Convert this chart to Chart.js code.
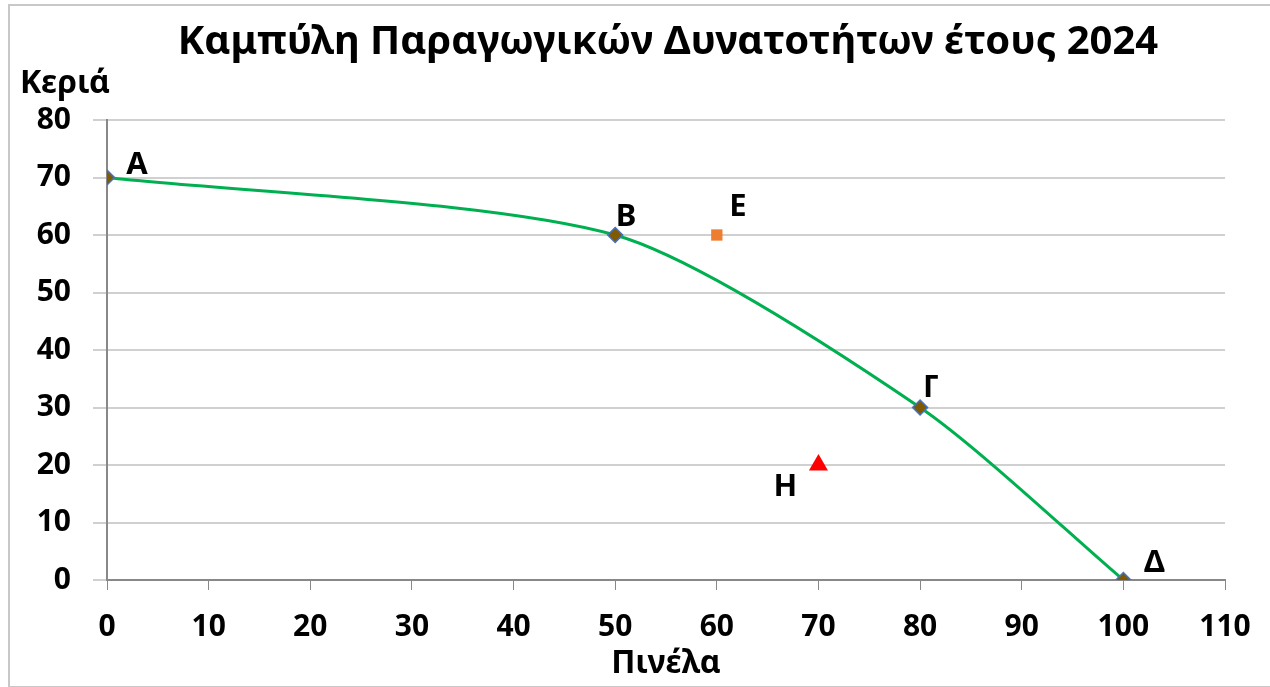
<!DOCTYPE html>
<html>
<head>
<meta charset="utf-8">
<script src="https://cdn.jsdelivr.net/npm/chart.js@4"></script>
<style>
  body { margin: 0; background: #fff; overflow: hidden; }
  #wrap { position: relative; width: 1270px; height: 687px; }
  #frame { position: absolute; left: 8px; top: 4px; width: 1300px; height: 680px; border: 2px solid #c8c8c8; }
  canvas { position: absolute; left: 0; top: 0; }
</style>
</head>
<body>
<div id="wrap">
  <div id="frame"></div>
  <canvas id="ppc" width="1270" height="687"></canvas>
</div>
<script>
// ================= DATA =================
const curveNames = ["Α", "Β", "Γ", "Δ"];
const curveX = [0, 50, 80, 100];   // Πινέλα
const curveY = [70, 60, 30, 0];    // Κεριά

const pointE = { name: "Ε", x: 60, y: 60 };
const pointH = { name: "Η", x: 70, y: 20 };

const xTicks = [0, 10, 20, 30, 40, 50, 60, 70, 80, 90, 100, 110];
const yTicks = [0, 10, 20, 30, 40, 50, 60, 70, 80];

const chartTitle = "Καμπύλη Παραγωγικών Δυνατοτήτων έτους 2024";
const xTitle = "Πινέλα";
const yTitle = "Κεριά";

// label offsets in px (dx, dy from the point)
const labelOffsets = {
  "Α": [30, -12], "Β": [11, -18], "Γ": [11, -19], "Δ": [31, -17],
  "Ε": [21, -28], "Η": [-33, 22]
};

const FONT = "'Noto Sans', sans-serif";

// ================= PLUGINS =================
const textPlugin = {
  id: "texts",
  afterDraw(chart) {
    const c = chart.ctx;
    c.save();
    c.fillStyle = "#000";
    c.textAlign = "center";
    c.textBaseline = "middle";
    c.font = "bold 40px " + FONT;
    c.fillText(chartTitle, 668, 43);
    c.font = "bold 32px " + FONT;
    c.fillText(yTitle, 65, 84);

    // point labels
    c.font = "bold 31px " + FONT;
    chart.data.datasets.forEach((ds, di) => {
      const meta = chart.getDatasetMeta(di);
      meta.data.forEach((el, i) => {
        const name = ds.names[i];
        const off = labelOffsets[name] || [0, 0];
        c.fillText(name, el.x + off[0], el.y + off[1]);
      });
    });
    c.restore();
  }
};

// ================= CHART =================
const ctx = document.getElementById("ppc");

new Chart(ctx, {
  type: "scatter",
  data: {
    datasets: [
      {
        names: curveNames,
        data: curveX.map((x, i) => ({ x: x, y: curveY[i] })),
        showLine: true,
        tension: 0.25,
        borderColor: "#00b050",
        borderWidth: 3,
        pointStyle: "rectRot",
        pointRadius: 7.5,
        pointBackgroundColor: "#7f5a00",
        pointBorderColor: "#4472c4",
        pointBorderWidth: 1.5
      },
      {
        names: [pointE.name],
        data: [{ x: pointE.x, y: pointE.y }],
        pointStyle: "rect",
        pointRadius: 8,
        pointBackgroundColor: "#ed7d31",
        pointBorderColor: "#ed7d31",
        pointBorderWidth: 0
      },
      {
        names: [pointH.name],
        data: [{ x: pointH.x, y: pointH.y }],
        pointStyle: "triangle",
        pointRadius: 11,
        pointBackgroundColor: "#ff0000",
        pointBorderColor: "#ff0000",
        pointBorderWidth: 0
      }
    ]
  },
  options: {
    responsive: false,
    animation: false,
    layout: { padding: { left: 0, top: 120, right: 45, bottom: 0 } },
    plugins: {
      legend: { display: false },
      title: { display: false },
      tooltip: { enabled: false }
    },
    scales: {
      x: {
        type: "linear",
        min: 0,
        max: 110,
        afterBuildTicks: s => { s.ticks = xTicks.map(v => ({ value: v })); },
        afterFit: s => { s.height = 107; },
        grid: { drawOnChartArea: false, drawTicks: true, tickLength: 10, tickColor: "#888" },
        border: { color: "#888", width: 2 },
        ticks: { color: "#000", padding: 19, font: { family: FONT, size: 30, weight: "bold" } },
        title: { display: true, text: xTitle, color: "#000", padding: 4, font: { family: FONT, size: 32, weight: "bold" } }
      },
      y: {
        type: "linear",
        min: 0,
        max: 80,
        afterBuildTicks: s => { s.ticks = yTicks.map(v => ({ value: v })); },
        afterFit: s => { s.width = 107; },
        grid: { color: "#d0d0d0", lineWidth: 2, tickLength: 14, tickColor: "#d0d0d0" },
        border: { color: "#888", width: 2 },
        ticks: { color: "#000", padding: 22, font: { family: FONT, size: 30, weight: "bold" } }
      }
    }
  },
  plugins: [textPlugin]
});
</script>
</body>
</html>
